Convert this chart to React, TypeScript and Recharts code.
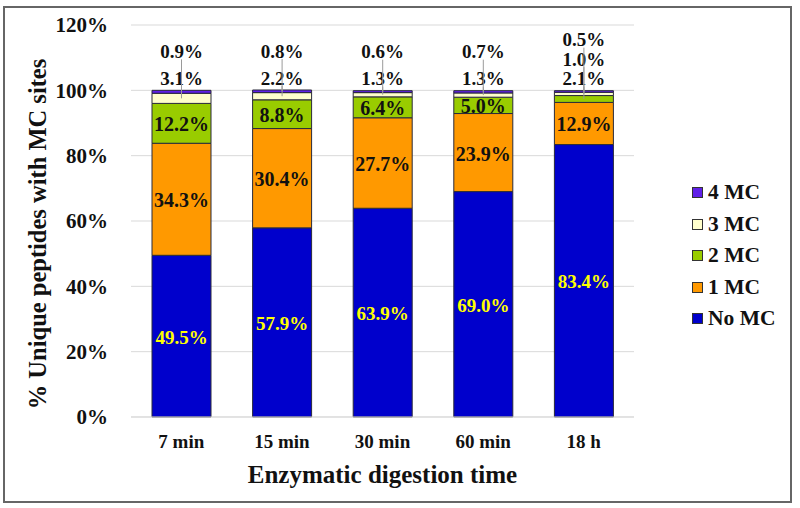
import React from 'react';
import { BarChart, Bar, XAxis, YAxis, CartesianGrid, Legend, LabelList, Label } from 'recharts';

const categories = ['7 min', '15 min', '30 min', '60 min', '18 h'];
const noMC = [49.5, 57.9, 63.9, 69.0, 83.4];
const oneMC = [34.3, 30.4, 27.7, 23.9, 12.9];
const twoMC = [12.2, 8.8, 6.4, 5.0, 2.1];
const threeMC = [3.1, 2.2, 1.3, 1.3, 1.0];
const fourMC = [0.9, 0.8, 0.6, 0.7, 0.5];
const yTicks = [0, 20, 40, 60, 80, 100, 120];

const seriesNames = ['No MC', '1 MC', '2 MC', '3 MC', '4 MC'];
const seriesKeys = ['noMC', 'oneMC', 'twoMC', 'threeMC', 'fourMC'];
const seriesValues = [noMC, oneMC, twoMC, threeMC, fourMC];
const seriesColors = ['#0000CC', '#FF9900', '#99CC00', '#FFFFCC', '#6020E8'];

const data = categories.map((c, i) => ({
  name: c,
  noMC: noMC[i],
  oneMC: oneMC[i],
  twoMC: twoMC[i],
  threeMC: threeMC[i],
  fourMC: fourMC[i],
}));

const FONT = '"Liberation Serif", "Times New Roman", serif';

const isOutside = (s: number, c: number) => s >= 3 || (s === 2 && seriesValues[2][c] < 3);

const makeLabel = (s: number) => (props: any) => {
  const vb = props.viewBox || {};
  const x = props.x ?? vb.x;
  const y = props.y ?? vb.y;
  const width = props.width ?? vb.width;
  const height = props.height ?? vb.height;
  const idx = props.index;
  const value = seriesValues[s][idx];
  if (x == null || y == null || value == null) return null;
  const cx = x + width / 2;
  const text = `${value.toFixed(1)}%`;
  if (!isOutside(s, idx)) {
    return (
      <text
        x={cx}
        y={y + height / 2 + 1}
        textAnchor="middle"
        dominantBaseline="central"
        fill={s === 0 ? '#FFFF00' : '#111'}
        fontSize={s === 0 ? 19 : 20}
        fontWeight="bold"
        fontFamily={FONT}
      >
        {text}
      </text>
    );
  }
  let above = 0;
  for (let k = s + 1; k < seriesValues.length; k++) above += seriesValues[k][idx];
  const pxPer = height / value;
  const top = y - above * pxPer;
  let rank = 0;
  let n = 0;
  for (let k = 0; k < seriesValues.length; k++) {
    if (isOutside(k, idx)) {
      n++;
      if (k < s) rank++;
    }
  }
  const gap = n >= 3 ? 19.5 : 27;
  const cy = top - 12 - rank * gap;
  return (
    <g>
      <line x1={cx} y1={cy + 8} x2={cx} y2={y + height / 2} stroke="#9a9a9a" strokeWidth={1} />
      <text
        x={cx}
        y={cy}
        textAnchor="middle"
        dominantBaseline="central"
        fill="#111"
        fontSize={19}
        fontWeight="bold"
        fontFamily={FONT}
      >
        {text}
      </text>
    </g>
  );
};

const LegendContent = () => (
  <div style={{ width: 100, fontFamily: FONT }}>
    {[4, 3, 2, 1, 0].map((s) => (
      <div key={s} style={{ display: 'flex', alignItems: 'center', height: 31.5 }}>
        <span
          style={{
            display: 'inline-block',
            width: 9,
            height: 9,
            background: seriesColors[s],
            border: '1px solid #333',
            marginRight: 5,
          }}
        />
        <span style={{ fontSize: 21.5, fontWeight: 'bold', color: '#111' }}>{seriesNames[s]}</span>
      </div>
    ))}
  </div>
);

const YTitle = (props: any) => {
  const vb = props.viewBox;
  const cx = vb.x + 37;
  const cy = vb.y + vb.height / 2 + 13;
  return (
    <text
      x={cx}
      y={cy}
      transform={`rotate(-90, ${cx}, ${cy})`}
      textAnchor="middle"
      dominantBaseline="central"
      fontSize={24.5}
      fontWeight="bold"
      fontFamily={FONT}
      fill="#111"
    >
      % Unique peptides with MC sites
    </text>
  );
};

export default function App() {
  return (
    <div style={{ position: 'absolute', left: 0, top: 0, width: 800, height: 508, background: '#fff' }}>
      <div
        style={{
          position: 'absolute',
          left: 3,
          top: 6,
          width: 789,
          height: 497,
          border: '2px solid #666',
          boxSizing: 'border-box',
        }}
      />
      <BarChart
        width={800}
        height={508}
        data={data}
        margin={{ top: 25, right: 66, bottom: 61, left: 0 }}
        barSize={59}
      >
        <CartesianGrid vertical={false} stroke="#d9d9d9" />
        <XAxis
          dataKey="name"
          height={30}
          tickLine={false}
          tickSize={0}
          tickMargin={18}
          axisLine={{ stroke: '#d9d9d9' }}
          tick={{ fill: '#111', fontSize: 19, fontWeight: 'bold', fontFamily: FONT }}
        >
          <Label
            value="Enzymatic digestion time"
            position="bottom"
            offset={18}
            style={{ fontSize: 25, fontWeight: 'bold', fontFamily: FONT, fill: '#111' }}
          />
        </XAxis>
        <YAxis
          width={131}
          domain={[0, 120]}
          ticks={yTicks}
          tickFormatter={(v: number) => `${v}%`}
          axisLine={false}
          tickLine={false}
          tickSize={0}
          tickMargin={23}
          tick={{ fill: '#111', fontSize: 21, fontWeight: 'bold', fontFamily: FONT }}
        >
          <Label content={YTitle} />
        </YAxis>
        <Legend
          layout="vertical"
          align="right"
          verticalAlign="middle"
          content={LegendContent}
          wrapperStyle={{ position: 'absolute', left: 692, top: 177, width: 100 }}
        />
        {seriesKeys.map((k, s) => (
          <Bar
            key={k}
            dataKey={k}
            name={seriesNames[s]}
            stackId="a"
            fill={seriesColors[s]}
            stroke="#2a2a3a"
            strokeWidth={1}
            isAnimationActive={false}
          >
            <LabelList dataKey={k} content={makeLabel(s)} />
          </Bar>
        ))}
      </BarChart>
    </div>
  );
}
